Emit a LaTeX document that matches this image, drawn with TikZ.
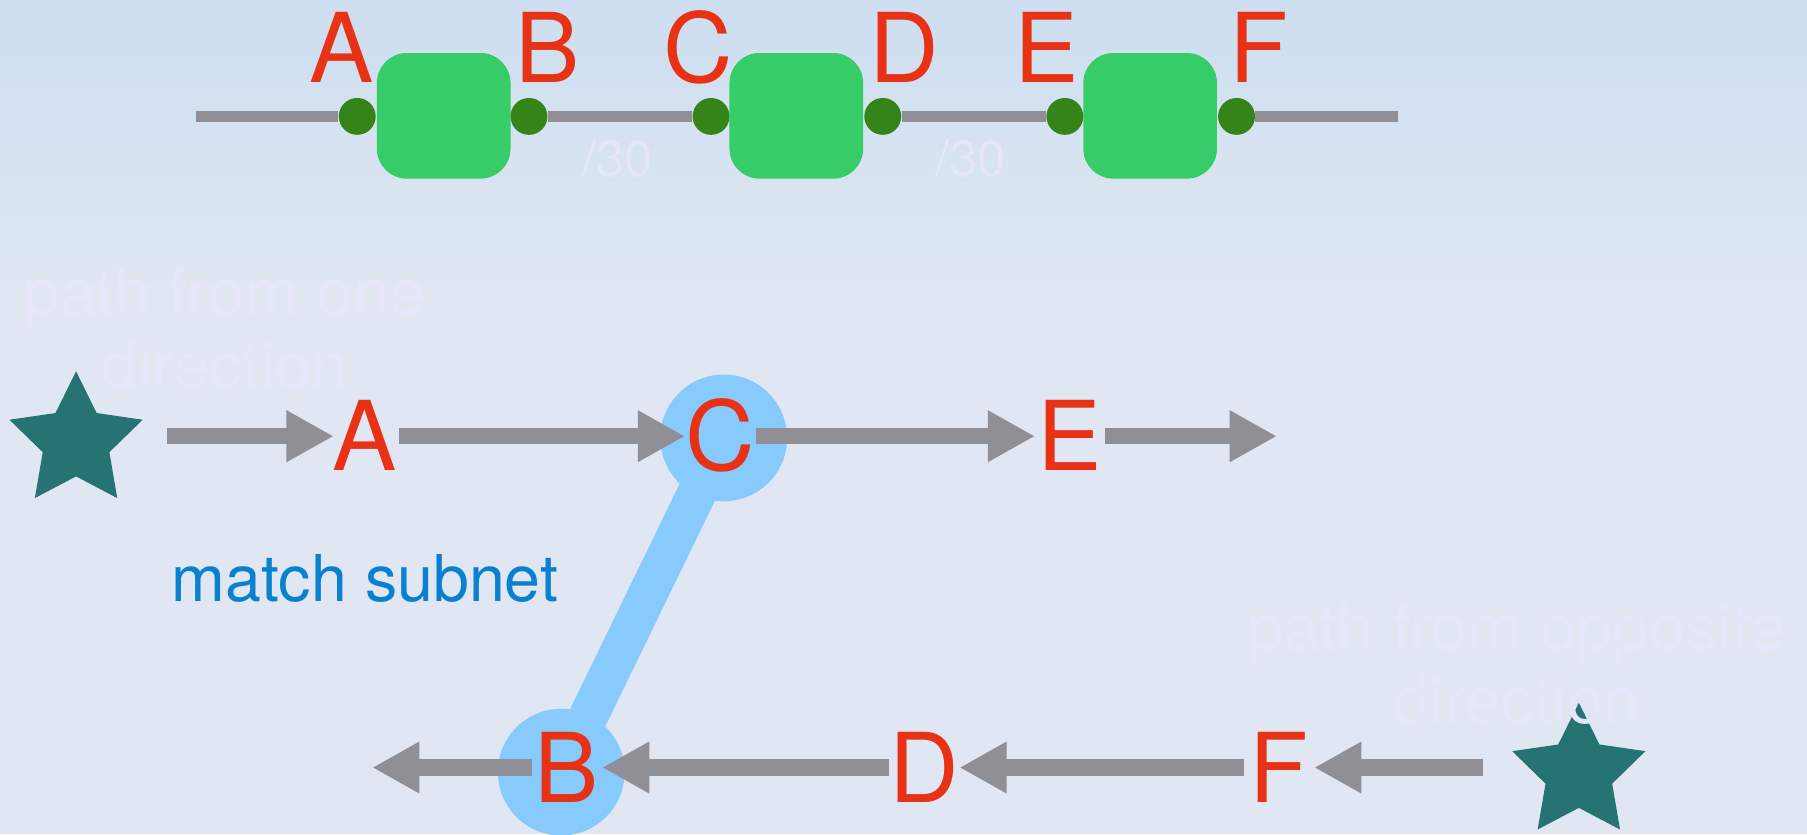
\documentclass[tikz,border=0pt]{standalone}
\usepackage{fontspec}
\setmainfont{TeX Gyre Heros}
\usetikzlibrary{shapes.geometric,arrows.meta,calc}
\definecolor{bgtop}{RGB}{205,222,240}
\definecolor{bgbot}{RGB}{224,231,242}
\definecolor{lblred}{RGB}{232,50,22}
\definecolor{wire}{RGB}{144,143,149}
\definecolor{portgreen}{RGB}{53,132,25}
\definecolor{boxgreen}{RGB}{54,204,104}
\definecolor{startl}{RGB}{38,115,115}
\definecolor{hilite}{RGB}{135,203,254}
\definecolor{subblue}{RGB}{10,128,208}
\definecolor{faint}{RGB}{230,230,250}
\begin{document}
\begin{tikzpicture}[x=0.5pt,y=-0.5pt,
  lbl/.style={text=lblred,font=\fontsize{41.8pt}{50pt}\selectfont,inner sep=0pt,text height=30pt,text depth=0pt,minimum width=30pt},
  toplbl/.style={text=lblred,font=\fontsize{41.8pt}{50pt}\selectfont,inner sep=0pt,anchor=base},
  port/.style={circle,fill=portgreen,inner sep=0pt,minimum size=16pt},
  dev/.style={rectangle,rounded corners=13pt,fill=boxgreen,minimum width=58pt,minimum height=54.5pt,inner sep=0pt},
  wireline/.style={draw=wire,line width=4.75pt},
  fat/.style={draw=wire,line width=7pt,-{Triangle[length=20.5pt,width=21pt]}},
  starnode/.style={star,star points=5,star point ratio=2,fill=startl,inner sep=0pt,minimum size=60.8pt},
  hl/.style={circle,fill=hilite,minimum size=55pt,inner sep=0pt},
  band/.style={draw=hilite,line width=17pt},
  faintlbl/.style={text=faint,font=\fontsize{28.3pt}{31.5pt}\selectfont,align=center,inner sep=0pt},
  masklbl/.style={text=faint,font=\fontsize{22pt}{26pt}\selectfont,inner sep=0pt,anchor=base},
]
% background
\shade[top color=bgtop,bottom color=bgbot] (0,0) rectangle (1568,260);
\fill[bgbot] (0,259) rectangle (1568,724);
\useasboundingbox (0,0) rectangle (1568,724);

% top row: devices and ports
\node[dev] (d1) at (385,100.5) {};
\node[dev] (d2) at (691,100.5) {};
\node[dev] (d3) at (998,100.5) {};
\node[port] (pA) at (310,101) {};
\node[port] (pB) at (459,101) {};
\node[port] (pC) at (617,101) {};
\node[port] (pD) at (766,101) {};
\node[port] (pE) at (924,101) {};
\node[port] (pF) at (1073,101) {};
\coordinate (w0) at (170,101);
\coordinate (w1) at (1213,101);
\draw[wireline] (w0) -- (pA);
\draw[wireline] (pB) -- (pC);
\draw[wireline] (pD) -- (pE);
\draw[wireline] (pF) -- (w1);
\node[toplbl] (tA) at (296.5,72) {A};
\node[toplbl] (tB) at (475,72) {B};
\node[toplbl] (tC) at (605.5,72) {C};
\node[toplbl] (tD) at (785,72) {D};
\node[toplbl] (tE) at (908.5,72) {E};
\node[toplbl] (tF) at (1092,72) {F};
\node[masklbl] (m1) at (536,153.5) {/30};
\node[masklbl] (m2) at (842,153.5) {/30};

% highlight
\node[hl] (cC) at (628,380) {};
\node[hl] (cB) at (487,670) {};
\draw[band] (cC.center) -- (cB.center);

% path letters
\node[lbl] (A) at (316,378.5) {A};
\node[lbl] (C) at (625,378.5) {C};
\node[lbl] (E) at (928.5,378.5) {E};
\node[lbl] (B) at (492,666) {B};
\node[lbl] (D) at (802,666) {D};
\node[lbl] (F) at (1110,666) {F};

% stars
\node[starnode] (s1) at (66,383) {};
\node[starnode] (s2) at (1370,670.6) {};

% arrows
\coordinate (eR) at (1108,378.5);
\coordinate (eL) at (323,666);
\draw[fat,shorten <=39.5pt] (s1 |- A) -- ([xshift=2pt]A.west);
\draw[fat] (A.east) -- (C.west);
\draw[fat] (C.east) -- (E.west);
\draw[fat] (E.east) -- (eR);
\draw[fat,shorten <=41.5pt] (s2 |- F) -- (F.east);
\draw[fat] (F.west) -- (D.east);
\draw[fat] (D.west) -- (B.east);
\draw[fat] (B.west) -- (eL);

% texts
\node[text=subblue,font=\fontsize{28pt}{32pt}\selectfont,anchor=base,inner sep=0pt] (ms) at (316.5,522) {match subnet};
\node[faintlbl,anchor=base] (t1) at (195,337) {path from one\\direction};
\node[faintlbl,anchor=base] (t2) at (1316,627.5) {path from opposite\\direction};
\end{tikzpicture}
\end{document}
